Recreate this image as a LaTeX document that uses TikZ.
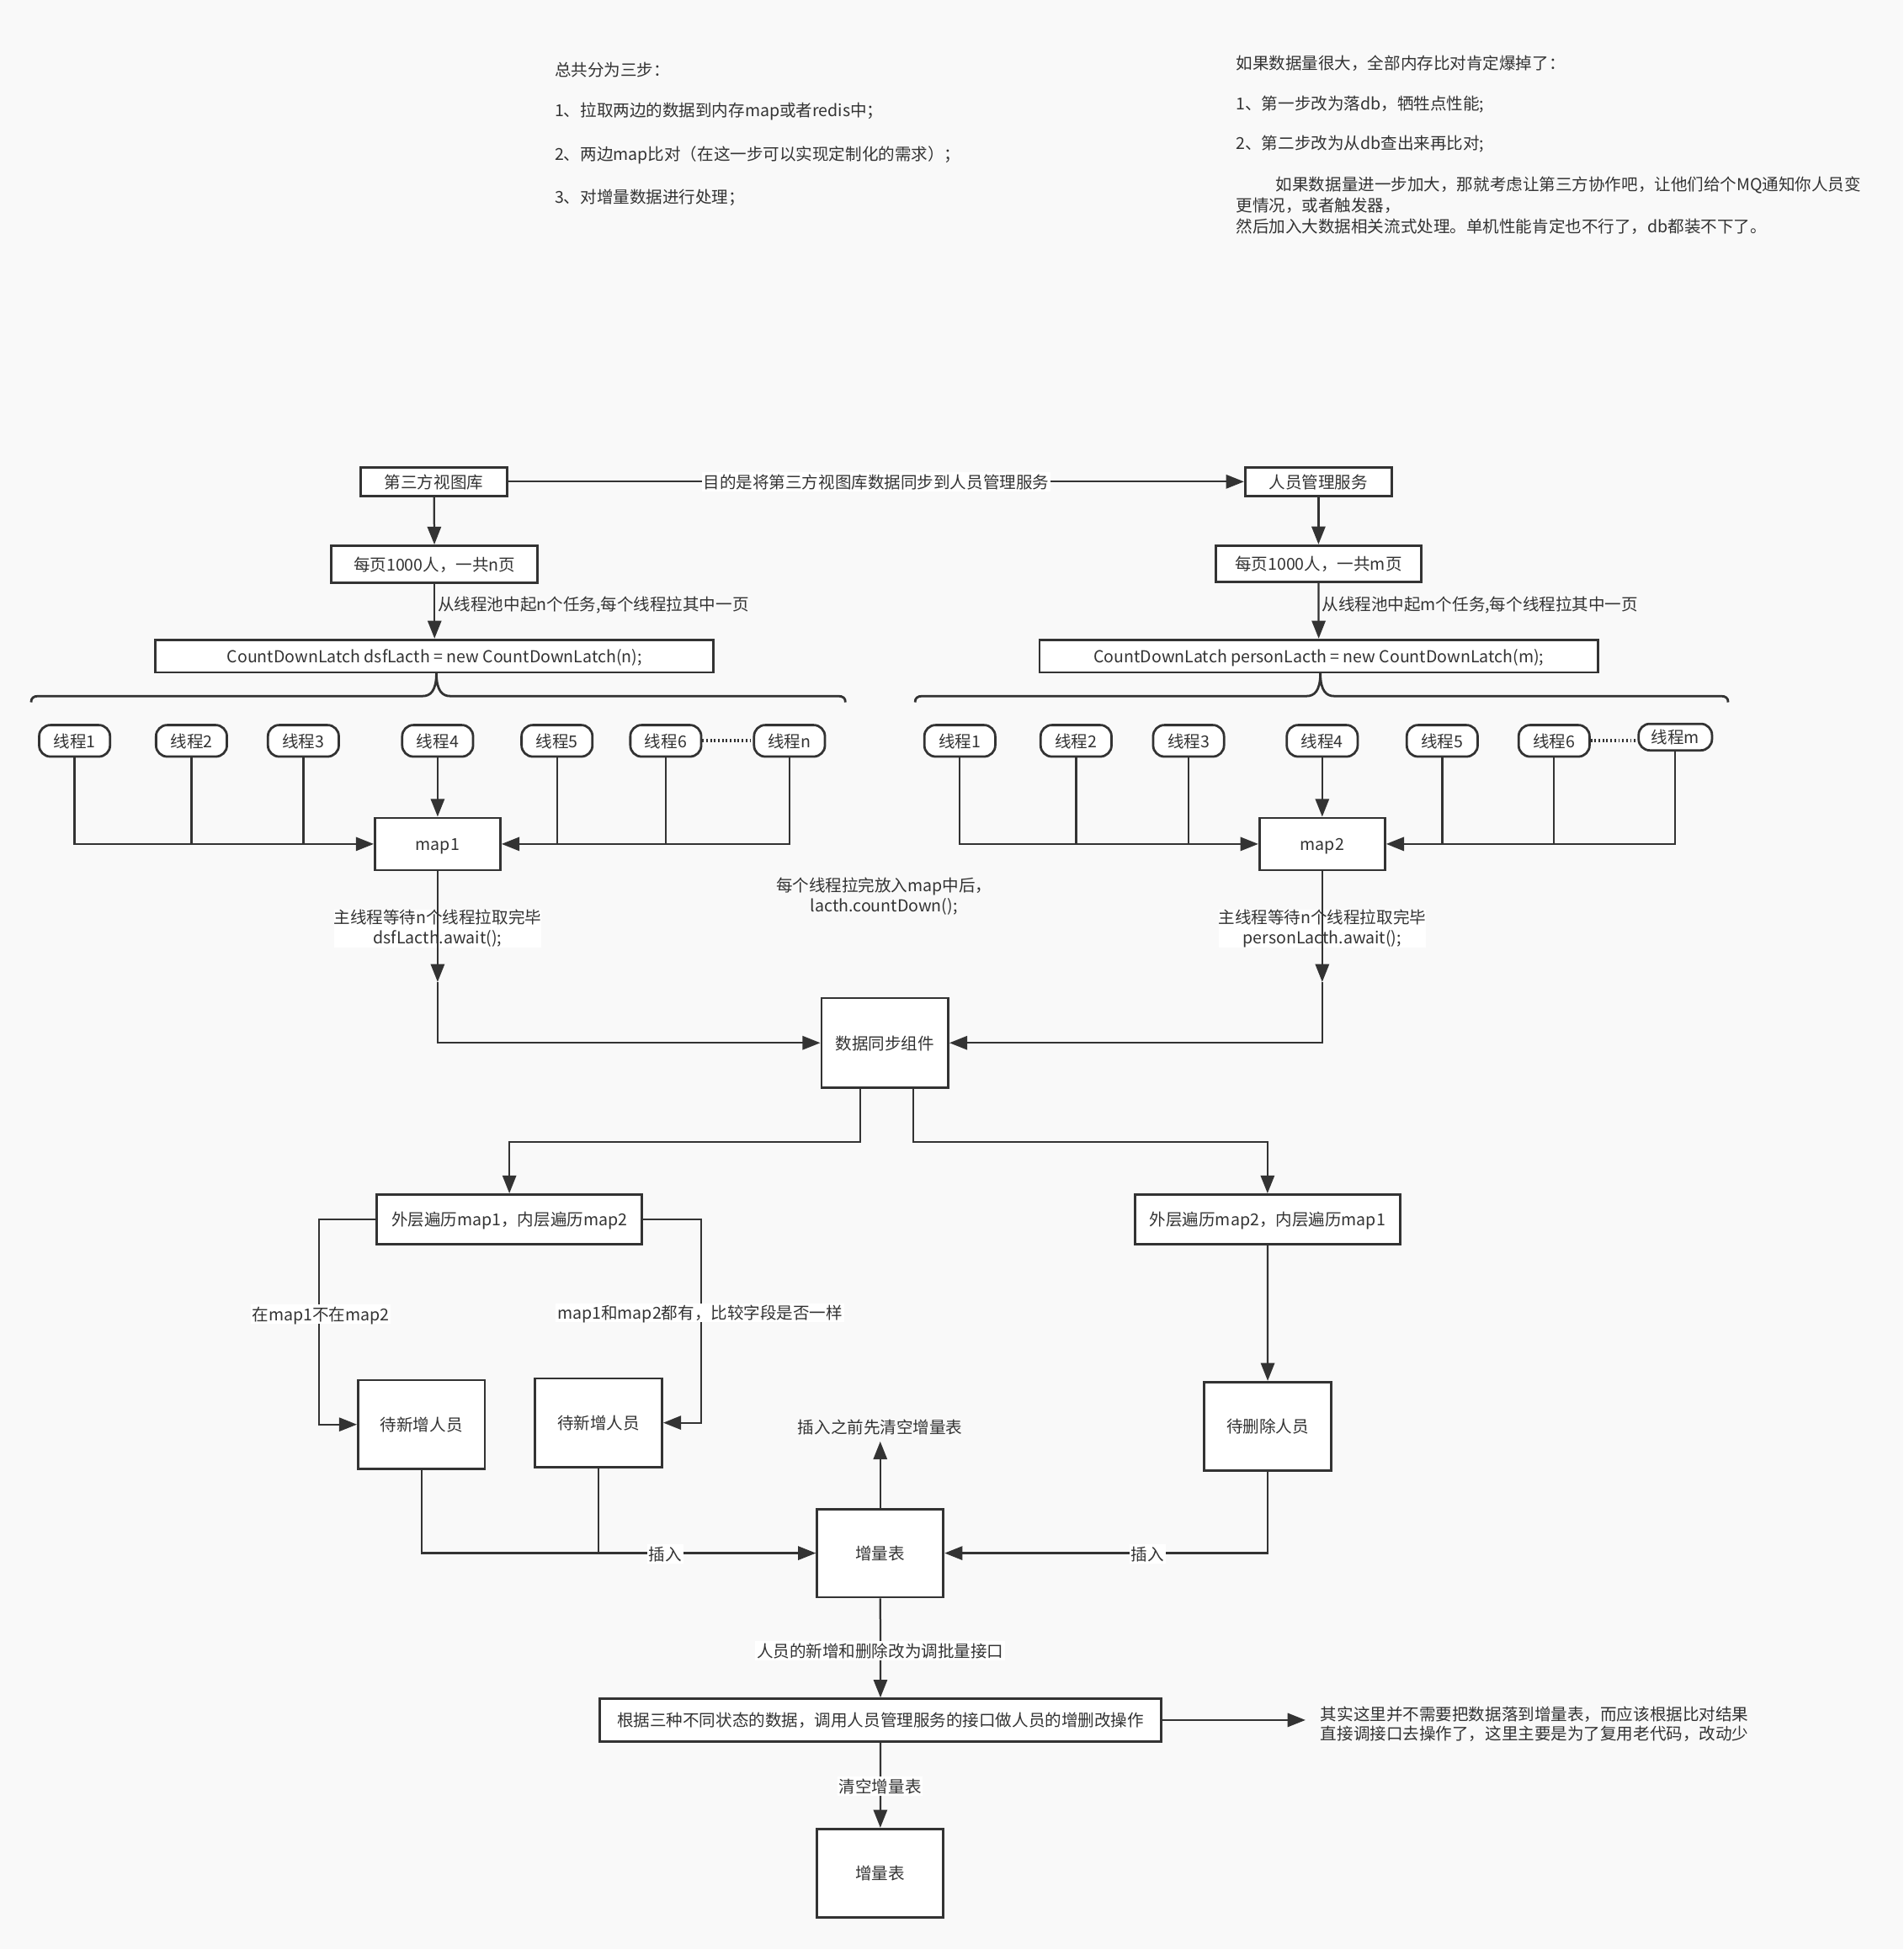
\documentclass[tikz,border=0pt]{standalone}
\usepackage{fontspec}
\setmainfont{Noto Sans CJK SC}
\usetikzlibrary{arrows.meta}
\definecolor{bgc}{RGB}{249,249,249}
\definecolor{ink}{RGB}{51,51,51}
\begin{document}
\begin{tikzpicture}[x=0.03cm,y=-0.03cm,
  font=\fontsize{11.3}{14}\selectfont, text=ink,
  one/.style={text height=1.0em, text depth=0.1em},
  box/.style={draw=ink, line width=1.6pt, fill=white, inner sep=0pt, align=center, one},
  pill/.style={box, rounded corners=0.27cm, minimum width=1.71cm, minimum height=0.76cm},
  arr/.style={draw=ink, line width=1.3pt, -{Triangle[length=0.43cm,width=0.33cm]}},
  ln/.style={draw=ink, line width=1.3pt},
  dotln/.style={draw=ink, line width=2.2pt, dash pattern=on 1.1pt off 1.6pt},
  bracel/.style={draw=ink, line width=1.6pt},
  lbl/.style={fill=white, inner sep=1pt, align=center},
  lbla/.style={lbl, one},
  txt/.style={anchor=west, inner sep=0pt},
]
\path[fill=bgc] (0,0) rectangle (1531,1568);
\useasboundingbox (0,0) rectangle (1531,1568);

% ---- top notes ----
\node[txt] (n1) at (446,56) {总共分为三步：};
\node[txt] (n2) at (446,90) {1、拉取两边的数据到内存map或者redis中；};
\node[txt] (n3) at (446,125) {2、两边map比对（在这一步可以实现定制化的需求）；};
\node[txt] (n4) at (446,159) {3、对增量数据进行处理；};

\node[txt] (r1) at (994,51) {如果数据量很大，全部内存比对肯定爆掉了：};
\node[txt] (r2) at (994,84) {1、第一步改为落db，牺牲点性能;};
\node[txt] (r3) at (994,116) {2、第二步改为从db查出来再比对;};
\node[txt] (r4) at (1026,149) {如果数据量进一步加大，那就考虑让第三方协作吧，让他们给个MQ通知你人员变};
\node[txt] (r5) at (994,165.5) {更情况，或者触发器，};
\node[txt] (r6) at (994,182) {然后加入大数据相关流式处理。单机性能肯定也不行了，db都装不下了。};

% ---- top boxes ----
\node[box, minimum width=3.54cm, minimum height=0.7cm] (src) at (349,387.5) {第三方视图库};
\node[box, minimum width=3.54cm, minimum height=0.7cm] (dst) at (1060.5,387.5) {人员管理服务};
\node[box, minimum width=4.98cm, minimum height=0.9cm] (pgL) at (349.5,454) {每页1000人，一共n页};
\node[box, minimum width=4.95cm, minimum height=0.88cm] (pgR) at (1060.5,453.5) {每页1000人，一共m页};
\node[box, minimum width=13.47cm, minimum height=0.79cm] (ltL) at (349.5,527.8) {CountDownLatch dsfLacth = new CountDownLatch(n);};
\node[box, minimum width=13.47cm, minimum height=0.79cm] (ltR) at (1060.7,527.8) {CountDownLatch personLacth = new CountDownLatch(m);};

\draw[arr] (src) -- (dst) node[lbla, midway] {目的是将第三方视图库数据同步到人员管理服务};
\draw[arr] (src) -- (pgL);
\draw[arr] (dst) -- (pgR);
\draw[arr] (pgL) -- (ltL);
\draw[arr] (pgR) -- (ltR);
\node[txt] (lblL) at (352,487) {从线程池中起n个任务,每个线程拉其中一页};
\node[txt] (lblR) at (1063,487) {从线程池中起m个任务,每个线程拉其中一页};

% ---- braces ----
\draw[bracel] (25,565) .. controls (25,561.5) and (27,560) .. (31,560) -- (340,560)
  .. controls (346,560) and (351,556) .. (351,541.5)
  .. controls (351,556) and (356,560) .. (362,560) -- (674,560)
  .. controls (678,560) and (680,561.5) .. (680,565);
\draw[bracel] (736,565) .. controls (736,561.5) and (738,560) .. (742,560) -- (1051,560)
  .. controls (1057,560) and (1062,556) .. (1062,541.5)
  .. controls (1062,556) and (1067,560) .. (1073,560) -- (1384,560)
  .. controls (1388,560) and (1390,561.5) .. (1390,565);

% ---- threads left ----
\node[pill] (tL1) at (60,596) {线程1};
\node[pill] (tL2) at (154,596) {线程2};
\node[pill] (tL3) at (244,596) {线程3};
\node[pill] (tL4) at (352,596) {线程4};
\node[pill] (tL5) at (448,596) {线程5};
\node[pill] (tL6) at (535.5,596) {线程6};
\node[pill] (tLn) at (635,596) {线程n};
\draw[dotln] (tL6.east) -- (tLn.west);

\node[box, minimum width=3.03cm, minimum height=1.26cm] (map1) at (352,679) {map1};
\draw[arr] (tL1.south) |- (map1.west);
\draw[ln] (tL2.south) -- (tL2.south |- map1.west);
\draw[ln] (tL3.south) -- (tL3.south |- map1.west);
\draw[arr] (tL4) -- (map1);
\draw[arr] (tLn.south) |- (map1.east);
\draw[ln] (tL5.south) -- (tL5.south |- map1.east);
\draw[ln] (tL6.south) -- (tL6.south |- map1.east);

% ---- threads right ----
\node[pill] (tR1) at (772,596) {线程1};
\node[pill] (tR2) at (865.5,596) {线程2};
\node[pill] (tR3) at (956,596) {线程3};
\node[pill] (tR4) at (1063.5,596) {线程4};
\node[pill] (tR5) at (1160,596) {线程5};
\node[pill] (tR6) at (1250,596) {线程6};
\node[pill, minimum width=1.77cm, minimum height=0.64cm] (tRm) at (1347.5,593) {线程m};
\draw[dotln] (tR6.east) -- (tR6.east -| tRm.west);

\node[box, minimum width=3.03cm, minimum height=1.26cm] (map2) at (1063.5,679) {map2};
\draw[arr] (tR1.south) |- (map2.west);
\draw[ln] (tR2.south) -- (tR2.south |- map2.west);
\draw[ln] (tR3.south) -- (tR3.south |- map2.west);
\draw[arr] (tR4) -- (map2);
\draw[arr] (tRm.south) |- (map2.east);
\draw[ln] (tR5.south) -- (tR5.south |- map2.east);
\draw[ln] (tR6.south) -- (tR6.south |- map2.east);

% ---- sync ----
\node[box, minimum width=3.06cm, minimum height=2.16cm] (sync) at (711.7,839) {数据同步组件};
\node[inner sep=0pt, align=center] (cd) at (711,721) {每个线程拉完放入map中后，\\lacth.countDown();};

\node[lbl, inner sep=0pt] (wL) at (352,747) {主线程等待n个线程拉取完毕\\dsfLacth.await();};
\node[lbl, inner sep=0pt] (wR) at (1063.5,747) {主线程等待n个线程拉取完毕\\personLacth.await();};
\coordinate (k1) at (352,790);
\coordinate (k2) at (1063.5,790);
\draw[arr] (map1.south) -- (k1);
\draw[arr] (k1) |- (sync.west);
\draw[arr] (map2.south) -- (k2);
\draw[arr] (k2) |- (sync.east);

% ---- compare ----
\node[box, minimum width=6.39cm, minimum height=1.2cm] (out1) at (409.7,981) {外层遍历map1，内层遍历map2};
\node[box, minimum width=6.39cm, minimum height=1.2cm] (out2) at (1019.5,981) {外层遍历map2，内层遍历map1};
\draw[arr] ([xshift=-0.59cm]sync.south) -- ++(0,42.6) -| (out1.north);
\draw[arr] ([xshift=0.684cm]sync.south) -- ++(0,42.6) -| (out2.north);

\node[box, minimum width=3.06cm, minimum height=2.14cm] (add1) at (339,1146) {待新增人员};
\node[box, minimum width=3.06cm, minimum height=2.14cm] (add2) at (481.5,1144.6) {待新增人员};
\node[box, minimum width=3.06cm, minimum height=2.14cm] (del) at (1019.7,1147.5) {待删除人员};

\draw[arr] (out1.west) -- ++(-45.5,0) |- (add1.west);
\draw[arr] (out1.east) -- ++(47,0) |- (add2.east);
\node[lbla] at (258,1057) {在map1不在map2};
\node[lbla] at (563,1056) {map1和map2都有，比较字段是否一样};
\draw[arr] (out2) -- (del);

% ---- increment table ----
\node[box, minimum width=3.05cm, minimum height=2.13cm] (inc1) at (708,1249.5) {增量表};
\draw[arr] (add1.south) |- (inc1.west);
\draw[ln] (add2.south) -- (add2.south |- inc1.west);
\draw[arr] (del.south) |- (inc1.east);
\node[lbla] at (535,1250) {插入};
\node[lbla] at (923,1250) {插入};

\node[inner sep=0pt, one] (pre) at (708,1148) {插入之前先清空增量表};
\draw[arr, shorten >=0.15cm] (inc1.north) -- (pre.south);

\node[box, minimum width=13.56cm, minimum height=1.03cm] (ops) at (708.2,1383.8) {根据三种不同状态的数据，调用人员管理服务的接口做人员的增删改操作};
\draw[arr] (inc1) -- (ops);
\node[lbla] at (708,1328) {人员的新增和删除改为调批量接口};

\node[txt, align=left, font=\fontsize{11.3}{13.4}\selectfont] (note) at (1062,1387) {其实这里并不需要把数据落到增量表，而应该根据比对结果\\直接调接口去操作了，这里主要是为了复用老代码，改动少};
\draw[arr, shorten >=0.36cm] (ops.east) -- (ops.east -| note.west);

\node[box, minimum width=3.05cm, minimum height=2.14cm] (inc2) at (708,1507) {增量表};
\draw[arr] (ops) -- (inc2);
\node[lbla] at (708,1437) {清空增量表};
\end{tikzpicture}
\end{document}
